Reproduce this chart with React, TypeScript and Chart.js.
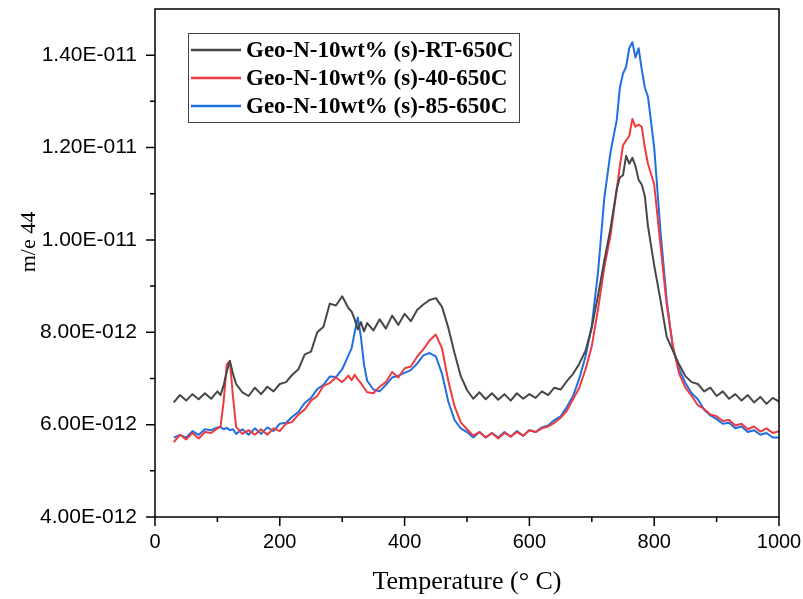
import React, { useEffect, useRef } from "react";
import { Chart, registerables } from "chart.js";

Chart.register(...registerables);

// Temperature (°C)
const temps = [
  30, 40, 50, 60, 70, 80, 90, 100, 105, 110, 115, 120, 125, 130, 140, 150, 160, 170, 180, 190,
  200, 210, 220, 230, 240, 250, 260, 270, 280, 290, 300, 310, 315, 320, 325, 330, 335, 340, 350, 360,
  370, 380, 390, 400, 410, 420, 430, 440, 450, 460, 470, 480, 490, 500, 510, 520, 530, 540, 550, 560,
  570, 580, 590, 600, 610, 620, 630, 640, 650, 660, 670, 680, 690, 700, 710, 720, 730, 740, 745, 750,
  755, 760, 765, 770, 775, 780, 785, 790, 800, 810, 820, 830, 840, 850, 860, 870, 880, 890, 900, 910,
  920, 930, 940, 950, 960, 970, 980, 990, 1000,
];

// m/e 44 signal, in units of 1E-012
const rtValues = [
  6.48, 6.64, 6.52, 6.66, 6.55, 6.68, 6.56, 6.72, 6.64, 6.85, 7.15, 7.38, 7.10, 6.88, 6.70, 6.62, 6.80, 6.66, 6.82, 6.72,
  6.88, 6.92, 7.08, 7.20, 7.52, 7.58, 8.00, 8.12, 8.62, 8.58, 8.78, 8.52, 8.45, 8.28, 8.06, 8.22, 8.02, 8.20, 8.04, 8.28,
  8.08, 8.36, 8.16, 8.40, 8.24, 8.48, 8.60, 8.70, 8.74, 8.55, 8.10, 7.55, 7.05, 6.75, 6.56, 6.70, 6.55, 6.68, 6.54, 6.66,
  6.52, 6.68, 6.56, 6.66, 6.58, 6.72, 6.64, 6.80, 6.76, 6.94, 7.10, 7.32, 7.60, 8.10, 8.80, 9.55, 10.25, 11.10, 11.35, 11.40,
  11.82, 11.65, 11.78, 11.60, 11.30, 11.20, 10.95, 10.30, 9.45, 8.70, 7.90, 7.60, 7.30, 7.05, 6.92, 6.88, 6.72, 6.80, 6.62,
  6.72, 6.56, 6.66, 6.52, 6.64, 6.48, 6.60, 6.45, 6.58, 6.50,
];

const c40Values = [
  5.62, 5.78, 5.68, 5.82, 5.70, 5.84, 5.82, 5.92, 5.95, 6.50, 7.30, 7.38, 6.60, 5.95, 5.80, 5.88, 5.78, 5.90, 5.78, 5.92,
  5.86, 6.02, 6.06, 6.22, 6.33, 6.52, 6.62, 6.84, 6.90, 7.02, 6.92, 7.06, 6.96, 7.08, 6.98, 6.90, 6.80, 6.70, 6.68, 6.82,
  6.92, 7.14, 7.02, 7.22, 7.26, 7.47, 7.63, 7.82, 7.95, 7.65, 6.95, 6.40, 6.05, 5.90, 5.76, 5.84, 5.72, 5.82, 5.70, 5.82,
  5.74, 5.84, 5.76, 5.88, 5.84, 5.92, 5.96, 6.04, 6.15, 6.30, 6.55, 6.80, 7.20, 7.70, 8.50, 9.40, 10.10, 11.10, 11.60, 12.05,
  12.15, 12.25, 12.62, 12.45, 12.50, 12.45, 12.00, 11.65, 11.20, 9.90, 8.60, 7.70, 7.10, 6.80, 6.62, 6.42, 6.34, 6.22, 6.18,
  6.08, 6.10, 5.98, 6.02, 5.90, 5.96, 5.85, 5.92, 5.82, 5.86,
];

const c85Values = [
  5.72, 5.78, 5.72, 5.86, 5.78, 5.90, 5.88, 5.94, 5.95, 5.90, 5.93, 5.88, 5.90, 5.80, 5.90, 5.78, 5.92, 5.80, 5.94, 5.86,
  6.02, 6.04, 6.17, 6.28, 6.47, 6.58, 6.77, 6.86, 7.04, 7.03, 7.20, 7.50, 7.65, 8.00, 8.32, 7.90, 7.30, 6.95, 6.76, 6.72,
  6.86, 7.02, 7.06, 7.12, 7.18, 7.32, 7.50, 7.55, 7.48, 7.10, 6.50, 6.10, 5.92, 5.84, 5.72, 5.84, 5.72, 5.82, 5.72, 5.84,
  5.74, 5.86, 5.76, 5.88, 5.84, 5.94, 5.98, 6.10, 6.18, 6.38, 6.62, 7.00, 7.48, 8.15, 9.30, 10.90, 11.90, 12.60, 13.30, 13.60,
  13.75, 14.15, 14.28, 13.95, 14.15, 13.70, 13.30, 13.10, 12.00, 10.20, 8.70, 7.65, 7.20, 6.90, 6.68, 6.55, 6.32, 6.20, 6.12,
  6.02, 6.04, 5.92, 5.96, 5.84, 5.88, 5.78, 5.82, 5.72, 5.72,
];

const seriesLabels = [
  "Geo-N-10wt% (s)-RT-650C",
  "Geo-N-10wt% (s)-40-650C",
  "Geo-N-10wt% (s)-85-650C",
];
const seriesColors = ["#474747", "#EE3B40", "#1F6FE3"];

const xMajorTicks = [0, 200, 400, 600, 800, 1000];
const xMinorTicks = [100, 300, 500, 700, 900];
const yMajorTicks = [4, 6, 8, 10, 12, 14];
const yMinorTicks = [5, 7, 9, 11, 13];

const xTitle = "Temperature (° C)";
const yTitle = "m/e 44";

const formatY = (v: number) =>
  v >= 10 ? (v / 10).toFixed(2) + "E-011" : v.toFixed(2) + "E-012";

const zeroPadding = (scale: any) => {
  scale.paddingTop = 0;
  scale.paddingBottom = 0;
  scale.paddingLeft = 0;
  scale.paddingRight = 0;
};

const framePlugin = {
  id: "frameAndLegend",
  afterDraw(chart: any) {
    const { ctx, chartArea, scales } = chart;
    const { left, right, top, bottom } = chartArea;
    const x = scales.x;
    const y = scales.y;
    ctx.save();
    ctx.strokeStyle = "#000";
    ctx.lineWidth = 1.5;
    ctx.strokeRect(left, top, right - left, bottom - top);
    ctx.beginPath();
    xMajorTicks.forEach((v) => {
      const p = x.getPixelForValue(v);
      ctx.moveTo(p, bottom);
      ctx.lineTo(p, bottom + 9);
    });
    xMinorTicks.forEach((v) => {
      const p = x.getPixelForValue(v);
      ctx.moveTo(p, bottom);
      ctx.lineTo(p, bottom + 5);
    });
    yMajorTicks.forEach((v) => {
      const p = y.getPixelForValue(v);
      ctx.moveTo(left, p);
      ctx.lineTo(left - 9, p);
    });
    yMinorTicks.forEach((v) => {
      const p = y.getPixelForValue(v);
      ctx.moveTo(left, p);
      ctx.lineTo(left - 5, p);
    });
    ctx.stroke();

    // y-axis title
    ctx.save();
    ctx.translate(29, 242);
    ctx.rotate(-Math.PI / 2);
    ctx.font = "22px 'Liberation Serif', 'Times New Roman', serif";
    ctx.fillStyle = "#000";
    ctx.textAlign = "center";
    ctx.textBaseline = "middle";
    ctx.fillText(yTitle, 0, 0);
    ctx.restore();

    // legend
    const bx = 188, by = 33, bw = 331, bh = 89;
    ctx.lineWidth = 1;
    ctx.strokeStyle = "#444";
    ctx.strokeRect(bx + 0.5, by + 0.5, bw, bh);
    ctx.font = "bold 23px 'Liberation Serif', 'Times New Roman', serif";
    ctx.textBaseline = "middle";
    ctx.textAlign = "left";
    seriesLabels.forEach((label, i) => {
      const ly = by + 17 + i * 28;
      ctx.strokeStyle = seriesColors[i];
      ctx.lineWidth = 2.5;
      ctx.beginPath();
      ctx.moveTo(bx + 3, ly);
      ctx.lineTo(bx + 53, ly);
      ctx.stroke();
      ctx.fillStyle = "#000";
      ctx.fillText(label, bx + 58, ly + 1);
    });
    ctx.restore();
  },
};

export default function App() {
  const canvasRef = useRef<HTMLCanvasElement | null>(null);

  useEffect(() => {
    if (!canvasRef.current) return;
    const values = [rtValues, c40Values, c85Values];
    const chart = new Chart(canvasRef.current, {
      type: "line",
      data: {
        datasets: values.map((vals, i) => ({
          label: seriesLabels[i],
          data: temps.map((t, j) => ({ x: t, y: vals[j] })),
          borderColor: seriesColors[i],
          backgroundColor: seriesColors[i],
          borderWidth: 2,
          pointRadius: 0,
          tension: 0,
          borderJoinStyle: "round" as const,
          fill: false,
        })),
      },
      options: {
        responsive: false,
        animation: false,
        layout: { padding: { top: 9, right: 24, left: 0, bottom: 0 } },
        plugins: {
          legend: { display: false },
          tooltip: { enabled: false },
        },
        scales: {
          x: {
            type: "linear",
            min: 0,
            max: 1000,
            grid: { display: false, drawTicks: false },
            border: { display: false },
            afterBuildTicks: (scale: any) => {
              scale.ticks = xMajorTicks.map((value) => ({ value }));
            },
            afterFit: (scale: any) => {
              scale.height = 82;
              zeroPadding(scale);
            },
            ticks: {
              color: "#000",
              padding: 13,
              maxRotation: 0,
              callback: (v: any) => String(v),
              font: { family: "'Liberation Sans', Arial, sans-serif", size: 20 },
            },
            title: {
              display: true,
              text: xTitle,
              color: "#000",
              padding: { top: 0, bottom: 1 },
              font: { family: "'Liberation Serif', 'Times New Roman', serif", size: 26 },
            },
          },
          y: {
            type: "linear",
            min: 4,
            max: 15,
            grid: { display: false, drawTicks: false },
            border: { display: false },
            afterBuildTicks: (scale: any) => {
              scale.ticks = yMajorTicks.map((value) => ({ value }));
            },
            afterFit: (scale: any) => {
              scale.width = 155;
              zeroPadding(scale);
            },
            ticks: {
              color: "#000",
              padding: 18,
              callback: (v: any) => formatY(Number(v)),
              font: { family: "'Liberation Sans', Arial, sans-serif", size: 21 },
            },
          },
        },
      },
      plugins: [framePlugin],
    });
    return () => chart.destroy();
  }, []);

  return (
    <div style={{ position: "absolute", left: 0, top: 0, width: 803, height: 599, background: "#fff" }}>
      <canvas ref={canvasRef} width={803} height={599} style={{ display: "block" }} />
    </div>
  );
}
